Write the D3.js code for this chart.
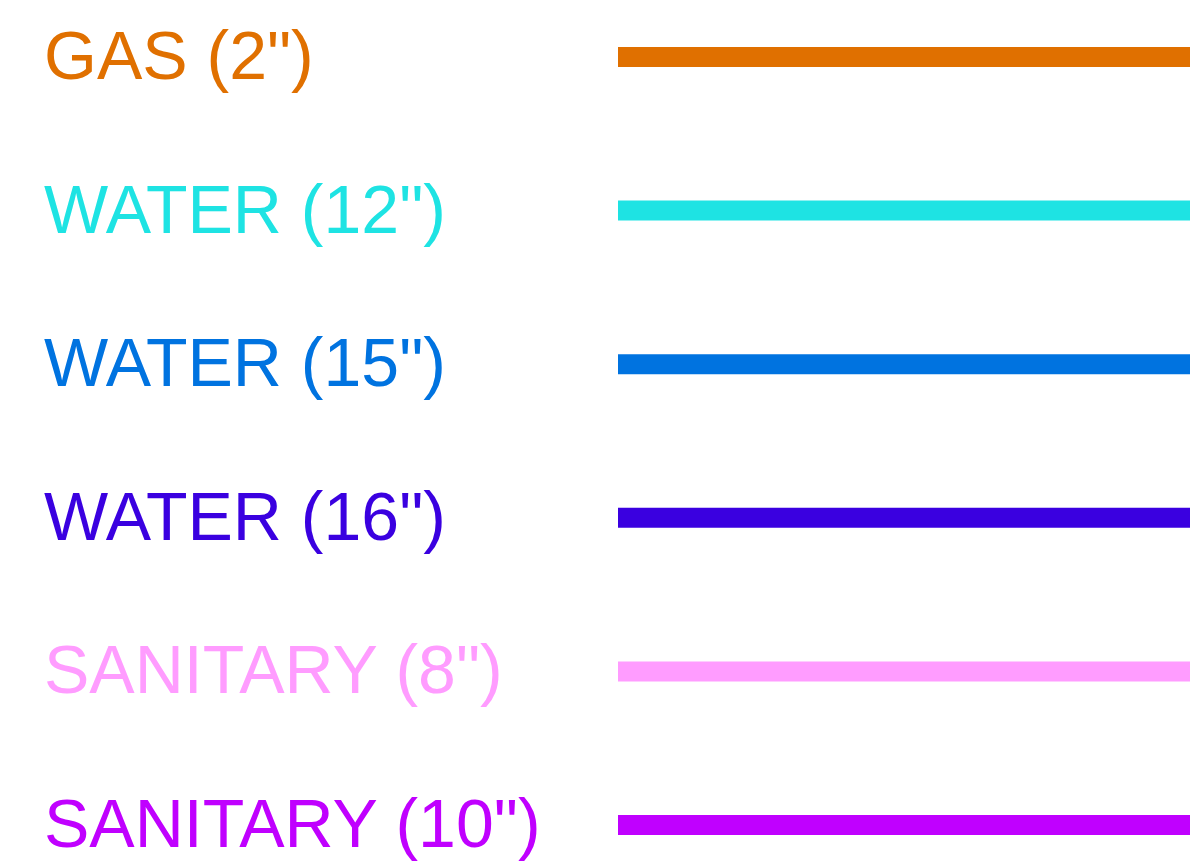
<!DOCTYPE html>
<html>
<head>
<meta charset="utf-8">
<script src="https://cdn.jsdelivr.net/npm/d3@7"></script>
<style>
  html, body { margin: 0; padding: 0; background: #fff; }
  svg { display: block; }
</style>
</head>
<body>
<div id="container"></div>
<script>
// legend entries
const labels = ['GAS (2")', 'WATER (12")', 'WATER (15")', 'WATER (16")', 'SANITARY (8")', 'SANITARY (10")']
const colors = ["#e07000", "#1ee3e3", "#0073e0", "#3a00e0", "#ff9cff", "#c000ff"]

let width = 1190
    , height = 868

const svg = d3.select("div#container").append("svg")
    .attr("width", width)
    .attr("height", height)

const y = d3.scalePoint()
    .domain(labels)
    .range([57, 825])

const color = d3.scaleOrdinal()
    .domain(labels)
    .range(colors)

const rows = svg.selectAll("g.row")
    .data(labels)
    .join("g")
    .attr("class", "row")
    .attr("transform", d => `translate(0,${y(d)})`)

rows.append("line")
    .attr("x1", 618)
    .attr("x2", width)
    .attr("stroke", d => color(d))
    .attr("stroke-width", 20)

rows.append("text")
    .attr("x", 44)
    .attr("y", 22)
    .attr("fill", d => color(d))
    .style("font-family", "'Liberation Sans', Arial, sans-serif")
    .style("font-size", "68px")
    .text(d => d)
</script>
</body>
</html>
